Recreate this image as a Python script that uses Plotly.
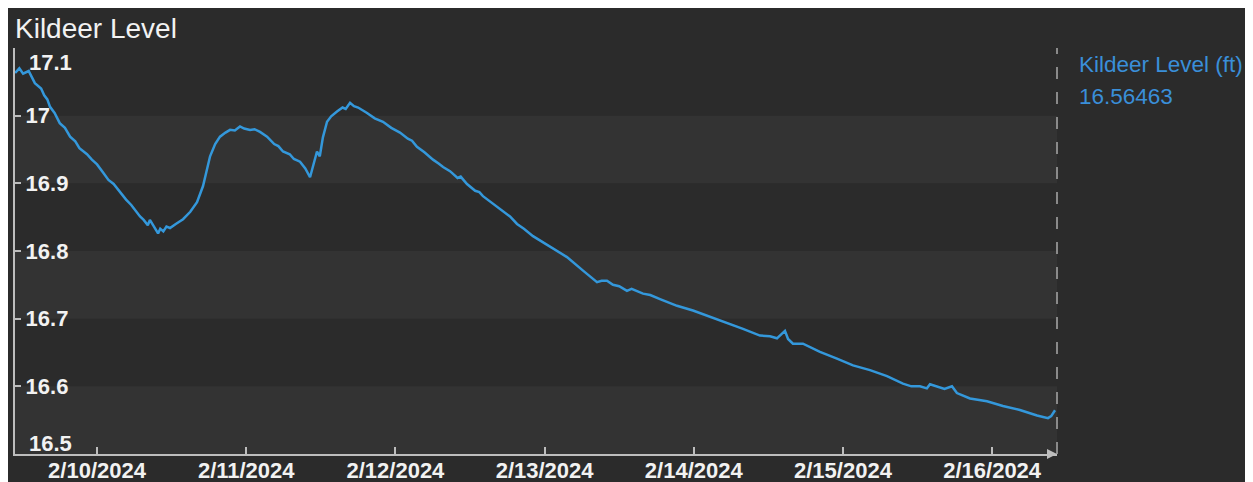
import plotly.graph_objects as go

# ---- data ----
times = [
    "2024-02-09 10:49", "2024-02-09 11:30", "2024-02-09 12:06", "2024-02-09 13:00",
    "2024-02-09 14:00", "2024-02-09 15:00", "2024-02-09 15:30", "2024-02-09 16:00",
    "2024-02-09 16:26", "2024-02-09 17:10", "2024-02-09 18:00", "2024-02-09 18:50",
    "2024-02-09 19:40", "2024-02-09 20:30", "2024-02-09 21:10", "2024-02-09 22:23",
    "2024-02-09 23:10", "2024-02-10 00:00", "2024-02-10 00:58", "2024-02-10 01:50",
    "2024-02-10 02:40", "2024-02-10 03:42", "2024-02-10 04:40", "2024-02-10 05:30",
    "2024-02-10 06:10", "2024-02-10 06:55", "2024-02-10 07:30", "2024-02-10 08:10",
    "2024-02-10 08:30", "2024-02-10 08:50", "2024-02-10 09:20", "2024-02-10 09:49",
    "2024-02-10 10:10", "2024-02-10 10:40", "2024-02-10 11:10", "2024-02-10 11:44",
    "2024-02-10 12:40", "2024-02-10 13:50", "2024-02-10 15:00", "2024-02-10 16:05",
    "2024-02-10 17:03", "2024-02-10 17:40", "2024-02-10 18:11", "2024-02-10 19:00",
    "2024-02-10 19:47", "2024-02-10 20:40", "2024-02-10 21:24", "2024-02-10 22:10",
    "2024-02-10 23:00", "2024-02-10 23:40", "2024-02-11 00:37", "2024-02-11 01:20",
    "2024-02-11 02:13", "2024-02-11 03:21", "2024-02-11 04:30", "2024-02-11 05:10",
    "2024-02-11 05:55", "2024-02-11 07:00", "2024-02-11 07:40", "2024-02-11 08:39",
    "2024-02-11 09:30", "2024-02-11 10:16", "2024-02-11 10:50", "2024-02-11 11:23",
    "2024-02-11 11:50", "2024-02-11 12:20", "2024-02-11 13:00", "2024-02-11 13:40",
    "2024-02-11 14:36", "2024-02-11 15:30", "2024-02-11 16:00", "2024-02-11 16:42",
    "2024-02-11 17:20", "2024-02-11 18:00", "2024-02-11 19:26", "2024-02-11 20:40",
    "2024-02-11 22:00", "2024-02-11 23:20", "2024-02-12 00:44", "2024-02-12 02:00",
    "2024-02-12 02:40", "2024-02-12 03:28", "2024-02-12 04:40", "2024-02-12 06:03",
    "2024-02-12 07:00", "2024-02-12 07:40", "2024-02-12 08:47", "2024-02-12 10:00",
    "2024-02-12 10:30", "2024-02-12 11:31", "2024-02-12 12:50", "2024-02-12 13:30",
    "2024-02-12 14:05", "2024-02-12 15:30", "2024-02-12 16:50", "2024-02-12 18:26",
    "2024-02-12 19:34", "2024-02-12 20:40", "2024-02-12 22:08", "2024-02-13 00:52",
    "2024-02-13 03:36", "2024-02-13 06:11", "2024-02-13 08:26", "2024-02-13 09:10",
    "2024-02-13 10:02", "2024-02-13 11:00", "2024-02-13 12:00", "2024-02-13 13:15",
    "2024-02-13 14:00", "2024-02-13 15:50", "2024-02-13 17:00", "2024-02-13 18:34",
    "2024-02-13 21:18", "2024-02-13 23:52", "2024-02-14 02:36", "2024-02-14 05:21",
    "2024-02-14 07:55", "2024-02-14 10:39", "2024-02-14 12:16", "2024-02-14 13:23",
    "2024-02-14 14:40", "2024-02-14 15:10", "2024-02-14 15:57", "2024-02-14 17:34",
    "2024-02-14 20:18", "2024-02-14 23:02", "2024-02-15 01:37", "2024-02-15 04:21",
    "2024-02-15 07:05", "2024-02-15 09:39", "2024-02-15 11:00", "2024-02-15 12:23",
    "2024-02-15 13:30", "2024-02-15 14:00", "2024-02-15 15:07", "2024-02-15 16:20",
    "2024-02-15 17:32", "2024-02-15 18:20", "2024-02-15 20:26", "2024-02-15 23:10",
    "2024-02-16 01:44", "2024-02-16 04:28", "2024-02-16 07:13", "2024-02-16 08:59",
    "2024-02-16 09:30", "2024-02-16 10:07",
]
level_ft = [
    17.063, 17.070, 17.062, 17.066,
    17.048, 17.040, 17.030, 17.024,
    17.013, 17.004, 16.989, 16.982,
    16.969, 16.962, 16.952, 16.943,
    16.935, 16.928, 16.916, 16.905,
    16.899, 16.887, 16.876, 16.868,
    16.860, 16.851, 16.846, 16.838,
    16.846, 16.841, 16.834, 16.826,
    16.833, 16.829, 16.836, 16.834,
    16.840, 16.847, 16.858, 16.872,
    16.896, 16.918, 16.940, 16.958,
    16.969, 16.975, 16.979, 16.978,
    16.984, 16.981, 16.979, 16.980,
    16.976, 16.969, 16.958, 16.955,
    16.947, 16.943, 16.936, 16.932,
    16.922, 16.909, 16.930, 16.947,
    16.940, 16.968, 16.991, 16.999,
    17.006, 17.012, 17.010, 17.019,
    17.014, 17.012, 17.004, 16.996,
    16.991, 16.982, 16.975, 16.966,
    16.963, 16.954, 16.946, 16.935,
    16.929, 16.924, 16.918, 16.908,
    16.910, 16.899, 16.889, 16.887,
    16.881, 16.871, 16.862, 16.851,
    16.840, 16.833, 16.822, 16.807,
    16.791, 16.771, 16.754, 16.756,
    16.756, 16.750, 16.748, 16.741,
    16.744, 16.737, 16.735, 16.729,
    16.719, 16.712, 16.703, 16.693,
    16.685, 16.675, 16.674, 16.671,
    16.682, 16.670, 16.663, 16.663,
    16.651, 16.641, 16.631, 16.624,
    16.615, 16.604, 16.600, 16.600,
    16.597, 16.603, 16.600, 16.596,
    16.600, 16.590, 16.582, 16.578,
    16.571, 16.565, 16.557, 16.553,
    16.556, 16.56463,
]
series_name = "Kildeer Level (ft)"
chart_title = "Kildeer Level"
y_ticks = [16.5, 16.6, 16.7, 16.8, 16.9, 17.0, 17.1]
y_tick_text = ["16.5", "16.6", "16.7", "16.8", "16.9", "17", "17.1"]
x_range = ["2024-02-09 10:48", "2024-02-16 10:26"]

BG = "#2b2b2b"
BAND = "#333333"
LINE = "#3498db"
TXT = "#f2f2f2"
AX = "#bdbdbd"
LEG = "#3a8fd9"
FONT = "Arial, Liberation Sans, sans-serif"

fig = go.Figure()
fig.add_trace(go.Scatter(x=times, y=level_ft, mode="lines", name=series_name,
                         line=dict(color=LINE, width=2.5)))

# alternating horizontal bands (lighter band between every other tick pair)
shapes = []
for i in range(0, len(y_ticks) - 1, 2):
    shapes.append(dict(type="rect", xref="paper", x0=0, x1=1, yref="y",
                       y0=y_ticks[i], y1=y_ticks[i + 1], fillcolor=BAND,
                       line=dict(width=0), layer="below"))
# dashed right boundary
shapes.append(dict(type="line", xref="paper", x0=1, x1=1, yref="paper", y0=0, y1=1,
                   line=dict(color="#8a8a8a", width=2, dash="12px,13px")))

# inner tick labels (end labels are shifted inward, as in the reference)
inner_text = [t if 0 < i < len(y_ticks) - 1 else "" for i, t in enumerate(y_tick_text)]
tick_font = dict(family=FONT, size=22, color=TXT, weight="bold")
annotations = [
    dict(xref="paper", yref="y", x=0, y=y_ticks[-1], text=y_tick_text[-1], showarrow=False,
         xanchor="left", yanchor="middle", xshift=12, yshift=-14, font=tick_font),
    dict(xref="paper", yref="y", x=0, y=y_ticks[0], text=y_tick_text[0], showarrow=False,
         xanchor="left", yanchor="middle", xshift=12, yshift=11, font=tick_font),
    dict(xref="paper", yref="paper", x=1, y=1, text=series_name, showarrow=False,
         xanchor="left", yanchor="middle", xshift=20, yshift=-16,
         font=dict(family=FONT, size=22.5, color=LEG)),
    dict(xref="paper", yref="paper", x=1, y=1, text=f"{level_ft[-1]:.5f}", showarrow=False,
         xanchor="left", yanchor="middle", xshift=20, yshift=-48,
         font=dict(family=FONT, size=22.5, color=LEG)),
    dict(xref="paper", yref="paper", x=1, y=0, ax=-6, ay=0, text="", showarrow=True,
         arrowhead=2, arrowsize=1, arrowwidth=2, arrowcolor=AX),
]

fig.update_layout(
    width=1253, height=482,
    margin=dict(l=7, r=204, t=40, b=18),
    paper_bgcolor=BG, plot_bgcolor=BG,
    showlegend=False,
    title=dict(text=chart_title, x=0, xanchor="left", xref="paper",
               y=1, yanchor="bottom", yref="paper", pad=dict(b=10),
               font=dict(family=FONT, size=28, color=TXT)),
    font=dict(family=FONT, color=TXT),
    shapes=shapes,
    annotations=annotations,
    xaxis=dict(type="date", range=x_range, tick0="2024-02-10", dtick=86400000,
               tickformat="%-m/%-d/%Y", showgrid=False, zeroline=False,
               showline=True, linecolor=AX, linewidth=2,
               ticks="inside", ticklen=7, tickwidth=2, tickcolor=AX,
               ticklabelstandoff=-4, tickfont=tick_font),
    yaxis=dict(range=[y_ticks[0], y_ticks[-1]], tickvals=y_ticks, ticktext=inner_text,
               showgrid=False, zeroline=False, showline=True, linecolor=AX, linewidth=2,
               ticks="inside", ticklen=6, tickwidth=2, tickcolor=AX,
               ticklabelposition="inside", ticklabelstandoff=6, tickfont=tick_font),
)

fig.write_html("out.html")
